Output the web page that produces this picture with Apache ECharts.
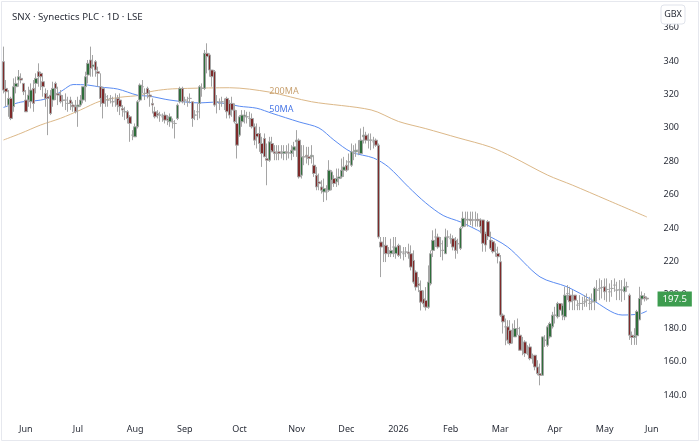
<!DOCTYPE html>
<html><head><meta charset="utf-8">
<script src="https://cdn.jsdelivr.net/npm/echarts/dist/echarts.min.js"></script>
<style>html,body{margin:0;padding:0;background:#fff}#c{width:700px;height:442px}</style>
</head><body><div id="c"></div>
<script>
// ---- data (GBX, daily, SNX) ----
const holidays = ['2025-05-26','2025-08-25','2025-12-25','2025-12-26','2026-01-01','2026-04-03','2026-04-06','2026-05-04','2026-05-25'];
const opens = [
339.6,323.6,313.6,317.6,312.6,324.6,328.6,329.6,326.6,316.6,
316.6,315.6,323.6,326.6,333.6,332.6,327.6,320.6,318.6,319.6,
316.6,326.6,320.6,319.6,316.6,316.6,314.6,316.6,313.6,312.6,
312.6,313.6,316.6,324.6,331.6,340.6,336.6,339.6,333.6,324.6,
323.6,318.6,316.6,317.6,315.6,316.6,317.6,316.6,311.6,309.6,
309.6,306.6,295.6,294.6,300.6,316.6,324.6,320.6,323.6,319.6,
314.6,309.6,308.6,307.6,306.6,307.6,305.6,303.6,303.6,302.6,
305.6,315.6,323.6,316.6,315.6,317.6,315.6,307.6,309.6,314.6,
323.6,323.6,344.6,343.6,334.6,333.6,315.6,314.6,315.6,314.6,
317.6,314.6,
314.6,310.6,302.6,295.6,303.6,306.6,306.6,305.6,
305.6,300.6,296.6,296.6,290.6,293.6,281.6,280.6,290.6,285.6,
285,285.6,285,284.6,285.6,285,284.6,286.6,291.6,292.6,
271.6,282.6,283.6,282.6,282.6,277.6,271.6,267.6,264.6,261.6,
261.6,262.6,268.6,269.6,267.6,269.6,270.6,274.6,277.6,279.6,
277.6,284.6,285.6,286.6,284.6,294.6,295.6,292.6,292.6,291.6,
292.6,289.6,231.6,229.6,229.6,225.6,224.6,228.6,224.6,229.6,
225.6,224.6,225.6,225.6,224.6,220.6,213.6,206.6,202.6,197.6,
196.6,192.6,206.6,226.6,234.6,234.6,230.6,226.6,224.6,234.6,
233.6,233.6,232.6,230.6,
227.8,240.8,244.8,244.8,245.2,244.8,
244.8,245.2,244.8,244.8,236.8,243.8,232.8,231.8,226.8,224.8,
219.8,187.8,180.8,180.8,178.8,176.8,174.8,179.8,175.8,170.8,
171.8,166.8,168.8,161.8,163.8,156.8,152.8,151.8,172.8,169.8,
174.8,180.8,187.8,186.8,194.8,187.8,186.8,200.8,199.8,196.8,
199.8,193.8,194.8,194.8,195.8,196.8,194.8,195.8,195.8,202.8,
203.8,204.4,204.8,203.2,201.8,203.8,205.8,202.8,203.2,202.8,
201.8,204.8,199.8,175.8,174.5,175.5,185,197.5,199,198];
const highs = [
348.6,328.6,322.6,318.6,329.6,330.6,334.6,332.6,326.6,322.6,
324.6,326.6,328.6,332.6,338.6,333.6,330.6,323.6,322.6,322.6,
327.6,327.6,324.6,322.6,319.6,320.6,318.6,318.6,315.6,316.6,
318.6,319.6,324.6,333.6,340.6,348.6,343.6,340.6,336.6,332.6,
324.6,320.6,319.6,319.6,318.6,320.6,319.6,320.6,313.6,312.6,
310.6,307.6,298.6,302.6,316.6,326.6,328.6,323.6,324.6,322.6,
317.6,312.6,310.6,309.6,308.6,309.6,307.6,308.6,305.6,304.6,
314.6,324.6,324.6,318.6,318.6,320.6,315.6,310.6,314.6,325.6,
326.6,346.6,350.6,344.6,334.6,334.6,319.6,317.6,318.6,317.6,
318.6,316.6,
318.6,314.6,310.6,307.6,310.6,310.6,309.6,309.6,
308.6,302.6,302.6,300.6,294.6,296.6,290.6,294.6,294.6,289.6,
289.6,289.6,289.6,289.6,289.6,290.6,289.6,291.6,298.6,293.6,
289.6,289.6,288.6,288.6,289.6,283.6,276.6,272.6,268.6,269.6,
265.6,280.6,274.6,271.6,275.6,275.6,281.6,282.6,280.6,284.6,
290.6,289.6,290.6,292.6,299.6,300.6,297.6,296.6,296.6,294.6,
293.6,290.6,234.6,234.6,234.6,228.6,233.6,234.6,234.6,230.6,
229.6,228.6,228.6,230.6,229.6,226.6,214.6,210.6,208.6,202.6,
204.6,217.6,226.6,238.6,239.6,236.6,234.6,232.6,239.6,238.6,
236.6,235.6,234.6,233.6,
240.8,249.8,249.8,249.8,249.8,249.8,
249.8,248.8,245.8,244.8,237.8,244.8,237.8,232.8,230.8,228.8,
223.8,188.8,185.8,184.8,184.8,182.8,184.8,185.8,180.8,174.8,
172.8,169.8,170.8,164.8,163.8,160.8,158.8,174.8,175.8,181.8,
183.8,189.8,192.8,195.8,194.8,194.8,204.8,205.8,204.8,202.8,
199.8,196.8,199.8,198.8,199.8,200.8,198.8,200.8,204.8,208.8,
209.8,208.8,209.8,209.8,206.8,208.8,209.8,207.8,208.8,208.8,
209.8,207.8,200.8,178,180,191,204.8,202,201,199];
const lows = [
320.6,312.6,306.6,304.6,309.6,320.6,324.6,326.6,319.6,309.6,
312.6,311.6,309.6,320.6,324.6,322.6,318.6,312.6,295.6,307.6,
312.6,316.6,313.6,314.6,312.6,310.6,309.6,310.6,309.6,308.6,
300.6,312.6,314.6,315.6,326.6,330.6,330.6,330.6,324.6,312.6,
305.6,312.6,312.6,314.6,312.6,312.6,309.6,307.6,306.6,304.6,
302.6,291.6,292.6,294.6,299.6,315.6,320.6,316.6,317.6,312.6,
308.6,305.6,305.6,303.6,303.6,302.6,301.6,300.6,299.6,293.6,
304.6,314.6,314.6,313.6,312.6,314.6,300.6,304.6,304.6,305.6,
318.6,322.6,332.6,330.6,324.6,312.6,308.6,310.6,312.6,310.6,
305.6,305.6,
306.6,302.6,281.6,294.6,300.6,302.6,302.6,300.6,
299.6,289.6,287.6,285.6,276.6,282.6,265.6,279.6,286.6,280.6,
280.6,280.6,281.6,280.6,280.6,281.6,280.6,282.6,282.6,269.6,
269.6,277.6,278.6,277.6,278.6,270.6,262.6,262.6,260.6,255.6,
256.6,261.6,262.6,264.6,264.6,265.6,269.6,270.6,273.6,274.6,
276.6,280.6,282.6,283.6,284.6,290.6,290.6,287.6,286.6,287.6,
288.6,233.6,210.6,219.6,219.6,222.6,222.6,222.6,221.6,222.6,
221.6,220.6,222.6,221.6,214.6,206.6,202.6,201.6,190.6,192.6,
190.6,191.6,205.6,222.6,228.6,227.6,222.6,220.6,224.6,228.6,
230.6,226.6,221.6,224.6,
226.8,239.8,240.8,240.8,241.8,240.8,
240.8,240.8,236.8,225.8,225.8,232.8,226.8,224.8,222.8,218.8,
186.8,176.8,169.8,170.8,169.8,170.8,174.8,175.8,166.8,163.8,
162.8,163.8,160.8,158.8,154.8,151.8,145.8,151.8,168.8,168.8,
173.8,179.8,182.8,185.8,186.8,184.8,184.8,196.8,190.8,190.8,
190.8,190.8,190.8,190.8,192.8,192.8,190.8,190.8,190.8,195.8,
196.8,197.8,196.8,195.8,195.8,198.8,201.8,196.8,196.8,195.8,
196.8,201.8,173,170,170,170,184.8,193.8,196,196.5];
const closes = [
322.6,321.6,317.6,305.6,324.6,326.6,330.6,328.6,321.6,309.6,
319.6,322.6,314.6,329.6,330.6,330.6,324.6,317.6,317.6,308.6,
323.6,323.6,319.6,315.6,316.4,316.6,314.6,314.6,312.6,309.6,
313.6,316.6,324.6,330.6,338.6,335.6,337.6,334.6,332.6,317.6,
314.6,318.6,316.6,317.6,315.6,316.6,313.6,312.6,310.6,309.6,
305.6,302.6,295.6,300.6,315.6,325.6,324.6,320.6,320.6,318.6,
313.6,306.6,307.6,307.6,306.6,304.6,304.6,306.6,303.6,302.6,
313.6,323.6,315.6,316.6,315.6,317.6,305.6,307.6,309.6,324.6,
323.6,344.6,342.6,334.6,330.6,313.6,315.6,314.6,315.6,314.6,
309.6,307.6,
310.6,303.6,289.6,306.6,307.6,307.6,306.6,305.6,
300.6,292.6,294.6,290.6,284.6,282.6,280.6,291.6,285.6,284.6,
285,284.6,285.4,285.6,285,285,286.6,288.6,292.6,270.6,
282.6,282.6,282.6,281.6,283.6,272.6,264.6,266.6,262.6,263.6,
261.6,274.6,273.6,266.6,269.6,270.6,274.6,276.6,274.6,279.6,
285.6,284.6,286.6,286.6,292.6,295.6,292.6,292.6,292.6,291.6,
289.6,234.6,228.6,229.6,224.6,225.6,226.6,228.6,228.6,223.6,
225.6,224.6,225.6,224.6,216.6,207.6,204.6,205.6,195.6,194.6,
192.6,207.6,224.6,232.6,234.6,228.6,230.6,226.6,234.6,234.6,
233.6,228.6,226.6,230.6,
239.8,245.8,244.8,245.2,244.4,244.8,
244.8,244.4,240.8,230.8,229.8,234.8,227.8,225.8,226.8,222.8,
187.8,183.8,180.8,172.8,170.8,176.8,179.8,179.8,166.8,170.8,
164.8,166.8,161.8,161.8,156.8,152.8,151.8,174.8,172.8,180.8,
182.8,187.8,187.8,194.8,190.8,193.8,199.8,200.8,195.8,196.8,
196.8,193.8,194.8,194.8,195.8,196.8,194.8,195.8,203.8,202.8,
203.8,204.4,201.8,203.2,201.8,203.8,205.8,202.8,203.2,202.8,
204.8,204.8,175.8,174.5,175.5,190,197.8,199.5,198,197.5];
// moving averages: [day index, value]
const ma50 = [[0,312.2],[7,315.4],[15,316.6],[20,318.9],[24,322.6],[28,325.9],[34,325.6],[39,324.4],[46,323.2],[54,319.5],[59,318.9],[67,316.6],[79,314.9],[84,315.3],[91,314.1],[95,312.9],[102,311.7],[108,308.7],[119,303.5],[127,299.9],[133,292.7],[140,285.5],[149,281.9],[155,276.5],[163,264.6],[170,255.0],[177,247.5],[184,243.6],[193,237.0],[203,228.6],[216,210.7],[227,204.7],[237,196.9],[249,187.9],[256,188.5],[259,190.3]];
const ma200 = [[0,292.7],[7,296.7],[15,301.7],[23,305.7],[31,310.7],[39,316.0],[47,318.3],[55,319.5],[59,321.6],[66,323.1],[74,323.6],[91,324.0],[107,321.4],[124,315.6],[148,310.7],[159,303.8],[170,299.5],[183,294.0],[196,288.5],[205,282.5],[219,271.7],[229,265.7],[243,256.8],[259,246.6]];
const lastPrice = 197.5;
const monthAbbr = ['Jan','Feb','Mar','Apr','May','Jun','Jul','Aug','Sep','Oct','Nov','Dec'];

// trading-day categories (incl. a few future days for the right margin)
const dates = [];
for (let t = Date.UTC(2025,4,19); t <= Date.UTC(2026,5,2); t += 86400000) {
  const d = new Date(t), dow = d.getUTCDay(), s = d.toISOString().slice(0,10);
  if (dow === 0 || dow === 6 || holidays.includes(s)) continue;
  dates.push(s);
}
const monthStart = dates.map((s,i) => i > 0 && s.slice(5,7) !== dates[i-1].slice(5,7));
const candles = opens.map((o,i) => [o, closes[i], lows[i], highs[i]]);

const step = 2.484;
const gridLeft = 3.5 - step/2;
const gridWidth = dates.length * step;
const FONT = '"Noto Sans", "Open Sans", sans-serif';

const chart = echarts.init(document.getElementById('c'), null, {renderer:'canvas'});
chart.setOption({
  animation: false,
  backgroundColor: '#fff',
  title: { text: 'SNX · Synectics PLC · 1D · LSE', left: 7, top: 7,
    textStyle: { fontSize: 9.7, fontWeight: 'normal', color: '#2a2e39', fontFamily: FONT } },
  grid: { left: gridLeft, width: gridWidth, top: 10.9, height: 400.8, containLabel: false, outerBoundsMode: 'none' },
  xAxis: { type: 'category', data: dates, boundaryGap: true,
    axisLine: {show:false}, axisTick: {show:false}, splitLine: {show:false},
    axisLabel: { interval: (i) => monthStart[i], margin: 13, fontSize: 9, color: '#2a2e39', fontFamily: FONT, hideOverlap: false,
      formatter: (v) => { const m = +v.slice(5,7); return m === 1 ? v.slice(0,4) : monthAbbr[m-1]; } } },
  yAxis: { type: 'value', position: 'right', min: 130, max: 370, interval: 10, scale: true,
    axisLine: {show:false}, axisTick: {show:false}, splitLine: {show:false},
    axisLabel: { margin: 8, fontSize: 9, color: '#2a2e39', fontFamily: FONT, showMinLabel: true, showMaxLabel: true,
      formatter: (v) => (v % 20 !== 0 || v < 140 || v > 360) ? '' : (v >= 220 ? String(v) : v.toFixed(1)) } },
  series: [
    { type: 'line', name: '200MA', data: ma200, showSymbol: false, smooth: 0.3, z: 1,
      lineStyle: { width: 1, color: '#dcb888' }, itemStyle: {color:'#dcb888'},
      markPoint: { symbol: 'circle', symbolSize: 0, silent: true,
        label: { show: true, position: 'right', distance: 0, formatter: '200MA', color: '#c9a271', fontSize: 9, fontFamily: FONT },
        data: [{ coord: [107, 321.7] }] } },
    { type: 'line', name: '50MA', data: ma50, showSymbol: false, smooth: 0.3, z: 1,
      lineStyle: { width: 1, color: '#5b8cf2' }, itemStyle: {color:'#5b8cf2'},
      markPoint: { symbol: 'circle', symbolSize: 0, silent: true,
        label: { show: true, position: 'right', distance: 0, formatter: '50MA', color: '#4a78e6', fontSize: 9, fontFamily: FONT },
        data: [{ coord: [107, 310.7] }] } },
    { type: 'candlestick', data: candles, barWidth: 3, z: 3,
      itemStyle: { color: '#2f6e3b', color0: '#7e2a2a', borderColor: '#a5a5a5', borderColor0: '#a5a5a5', borderWidth: 1 },
      markLine: { silent: true, symbol: ['none','none'], animation: false,
        lineStyle: { color: 'rgba(0,0,0,0)', width: 0 },
        label: { show: true, position: 'end', distance: 2, formatter: String(lastPrice), color: '#fff',
          backgroundColor: '#3d9c4f', padding: [3,5,2,5], fontSize: 9.5, fontFamily: FONT },
        data: [{ yAxis: lastPrice }] } }
  ],
  graphic: [
    { type: 'rect', z: 100, silent: true, shape: { x: 1.5, y: 1.5, width: 697, height: 439 },
      style: { fill: 'none', stroke: '#e6e8ee', lineWidth: 1 } },
    { type: 'rect', z: 100, silent: true, shape: { x: 661, y: 5, width: 24, height: 19, r: 3 },
      style: { fill: '#fff', stroke: '#e0e3eb', lineWidth: 1 } },
    { type: 'text', z: 101, silent: true, x: 673, y: 14.5,
      style: { text: 'GBX', fill: '#2a2e39', font: '9px ' + FONT, textAlign: 'center', textVerticalAlign: 'middle', align: 'center', verticalAlign: 'middle' } }
  ]
});
</script></body></html>
